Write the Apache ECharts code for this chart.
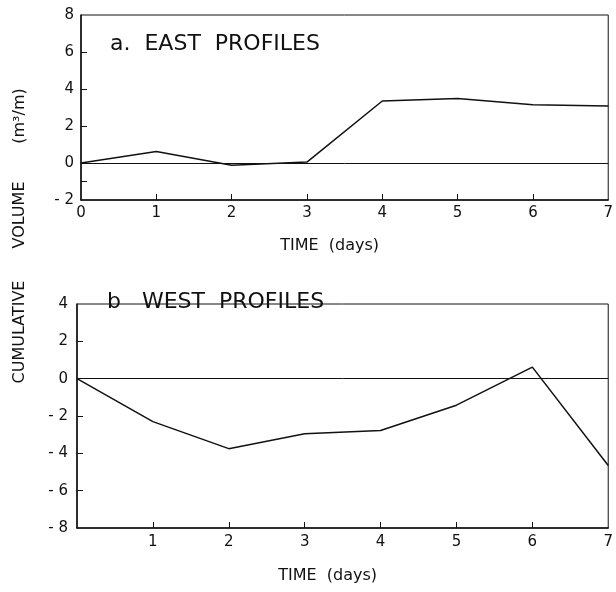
<!DOCTYPE html>
<html>
<head>
<meta charset="utf-8">
<script src="https://cdn.jsdelivr.net/npm/echarts@6/dist/echarts.min.js"></script>
<style>
  html, body { margin: 0; padding: 0; background: #fff; }
  #chart { width: 616px; height: 592px; }
</style>
</head>
<body>
<div id="chart"></div>
<script>
// days since start of survey
const days = [0, 1, 2, 3, 4, 5, 6, 7]
// cumulative volume change, m3/m
const eastVolume = [0, 0.62, -0.12, 0.05, 3.35, 3.48, 3.15, 3.08]
const westVolume = [0, -2.3, -3.75, -2.95, -2.78, -1.42, 0.62, -4.65]

const eastYLabels = [-2, 0, 2, 4, 6, 8]
const eastYTicks = [-1, 2, 4, 6]
const westYLabels = [-8, -6, -4, -2, 0, 2, 4]
const westYTicks = [-6, -4, -2, 2]
const eastXLabels = [0, 1, 2, 3, 4, 5, 6, 7]
const westXLabels = [1, 2, 3, 4, 5, 6, 7]
const xTicks = [1, 2, 3, 4, 5, 6]

const FONT = 'DejaVu Sans'
const ink = '#111'

const chart = echarts.init(document.getElementById('chart'))

const xAxisBase = (labels, margin) => ({
  type: 'value',
  min: 0,
  max: 7,
  name: 'TIME  (days)',
  nameLocation: 'middle',
  nameTextStyle: { color: ink, fontFamily: FONT, fontSize: 16, padding: [0, 30, 0, 0] },
  axisLine: { onZero: false, lineStyle: { color: ink, width: 1.5 } },
  axisTick: { inside: true, length: 6, customValues: xTicks, lineStyle: { color: ink } },
  axisLabel: { customValues: labels, color: ink, fontFamily: FONT, fontSize: 15, margin: margin },
  splitLine: { show: false }
})

const yAxisBase = (min, max, labels, ticks, margin) => ({
  type: 'value',
  min: min,
  max: max,
  axisLine: { show: true, onZero: false, lineStyle: { color: ink, width: 1.5 } },
  axisTick: { show: true, inside: true, length: 6, customValues: ticks, lineStyle: { color: ink } },
  axisLabel: {
    customValues: labels, color: ink, fontFamily: FONT, fontSize: 15, margin: margin,
    formatter: v => (v < 0 ? '- ' + Math.abs(v) : String(v))
  },
  splitLine: { show: false }
})

const zeroLine = {
  silent: true,
  symbol: 'none',
  label: { show: false },
  lineStyle: { color: ink, width: 1, type: 'solid' },
  data: [{ yAxis: 0 }]
}

const yTitle = (text, y) => ({
  type: 'text',
  x: 20,
  y: y,
  rotation: Math.PI / 2,
  style: {
    text: text,
    fill: ink,
    font: '16px "DejaVu Sans"',
    align: 'center',
    verticalAlign: 'middle'
  }
})

const option = {
  backgroundColor: '#fff',
  animation: false,
  title: [
    { text: 'a.  EAST  PROFILES', left: 105, top: 28, textStyle: { color: ink, fontFamily: FONT, fontSize: 22, fontWeight: 'normal' } },
    { text: 'b   WEST  PROFILES', left: 102, top: 286, textStyle: { color: ink, fontFamily: FONT, fontSize: 22, fontWeight: 'normal' } }
  ],
  graphic: [
    yTitle('CUMULATIVE', 332),
    yTitle('VOLUME', 215),
    yTitle('(m³/m)', 116)
  ],
  grid: [
    { left: 81, right: 2, top: 15, height: 185, show: true, borderColor: ink, borderWidth: 1 },
    { left: 77, right: 4, top: 304, height: 224, show: true, borderColor: ink, borderWidth: 1 }
  ],
  xAxis: [
    Object.assign(xAxisBase(eastXLabels, 6), { gridIndex: 0, nameGap: 38 }),
    Object.assign(xAxisBase(westXLabels, 7), { gridIndex: 1, nameGap: 40 })
  ],
  yAxis: [
    Object.assign(yAxisBase(-2, 8, eastYLabels, eastYTicks, 7), { gridIndex: 0 }),
    Object.assign(yAxisBase(-8, 4, westYLabels, westYTicks, 9), { gridIndex: 1 })
  ],
  series: [
    {
      type: 'line',
      xAxisIndex: 0,
      yAxisIndex: 0,
      data: days.map((d, i) => [d, eastVolume[i]]),
      symbol: 'none',
      lineStyle: { color: ink, width: 1.5 },
      markLine: zeroLine
    },
    {
      type: 'line',
      xAxisIndex: 1,
      yAxisIndex: 1,
      data: days.map((d, i) => [d, westVolume[i]]),
      symbol: 'none',
      lineStyle: { color: ink, width: 1.5 },
      markLine: zeroLine
    }
  ]
}

chart.setOption(option)
</script>
</body>
</html>
